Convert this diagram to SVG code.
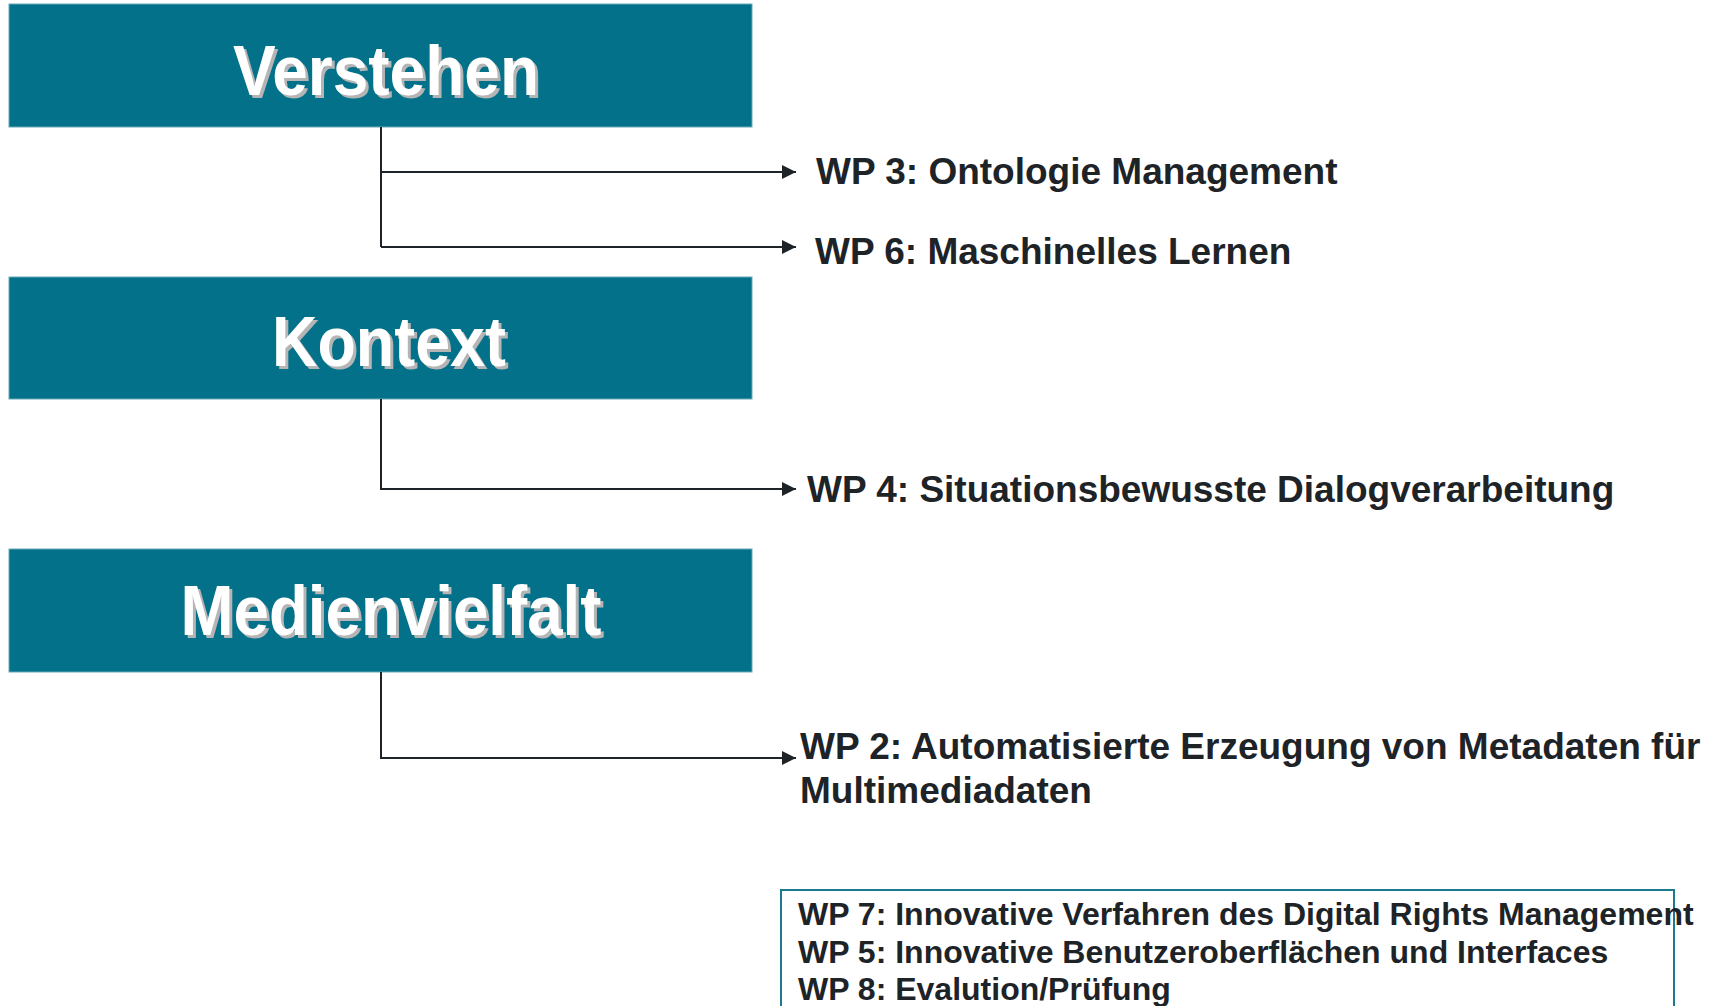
<svg xmlns="http://www.w3.org/2000/svg" width="1716" height="1006" viewBox="0 0 1716 1006">
<style>
.box{fill:#037189;stroke:#6aa9b8;stroke-width:1}
.title{font-family:"Liberation Sans",Arial,sans-serif;font-weight:bold;font-size:71px;text-anchor:middle}
.shadow{fill:#b5b5b5}
.tw{fill:#ffffff}
.wp{font-family:"Liberation Sans",Arial,sans-serif;font-weight:bold;font-size:37px;fill:#1e2327}
.wps{font-family:"Liberation Sans",Arial,sans-serif;font-weight:bold;font-size:32px;fill:#1e2327}
.conn{fill:none;stroke:#1e2327;stroke-width:2}
</style>
<defs>
<marker id="arr" viewBox="0 0 10 10" refX="10" refY="5" markerWidth="7" markerHeight="7" orient="auto" markerUnits="strokeWidth">
<path d="M0,0 L10,5 L0,10 Z" fill="#1e2327"/>
</marker>
</defs>
<rect width="1716" height="1006" fill="#ffffff"/>
<g id="verstehen">
<rect class="box" x="9" y="4" width="743" height="123"/>
<text class="title shadow" x="389" y="98" textLength="306" lengthAdjust="spacingAndGlyphs">Verstehen</text>
<text class="title tw" x="386" y="95" textLength="306" lengthAdjust="spacingAndGlyphs">Verstehen</text>
</g>
<g id="kontext">
<rect class="box" x="9" y="277" width="743" height="122"/>
<text class="title shadow" x="392" y="369" textLength="234" lengthAdjust="spacingAndGlyphs">Kontext</text>
<text class="title tw" x="389" y="366" textLength="234" lengthAdjust="spacingAndGlyphs">Kontext</text>
</g>
<g id="medienvielfalt">
<rect class="box" x="9" y="549" width="743" height="123"/>
<text class="title shadow" x="394" y="638" textLength="421" lengthAdjust="spacingAndGlyphs">Medienvielfalt</text>
<text class="title tw" x="391" y="635" textLength="421" lengthAdjust="spacingAndGlyphs">Medienvielfalt</text>
</g>
<g id="connectors">
<path class="conn" d="M381,127 V247"/>
<path class="conn" d="M381,172 H796" marker-end="url(#arr)"/>
<path class="conn" d="M381,247 H796" marker-end="url(#arr)"/>
<path class="conn" d="M381,399 V489 H796" marker-end="url(#arr)"/>
<path class="conn" d="M381,672 V758 H796" marker-end="url(#arr)"/>
</g>
<g id="wp3"><text class="wp" x="816" y="184">WP 3: Ontologie Management</text></g>
<g id="wp6"><text class="wp" x="815" y="264">WP 6: Maschinelles Lernen</text></g>
<g id="wp4"><text class="wp" x="807" y="502">WP 4: Situationsbewusste Dialogverarbeitung</text></g>
<g id="wp2"><text class="wp" x="800" y="759">WP 2: Automatisierte Erzeugung von Metadaten für</text><text class="wp" x="800" y="803">Multimediadaten</text></g>
<g id="other-wps">
<rect x="781" y="890" width="893" height="130" fill="none" stroke="#1b7a8e" stroke-width="2"/>
<text class="wps" x="798" y="925">WP 7: Innovative Verfahren des Digital Rights Management</text>
<text class="wps" x="798" y="963">WP 5: Innovative Benutzeroberflächen und Interfaces</text>
<text class="wps" x="798" y="1000">WP 8: Evalution/Prüfung</text>
</g>
</svg>
